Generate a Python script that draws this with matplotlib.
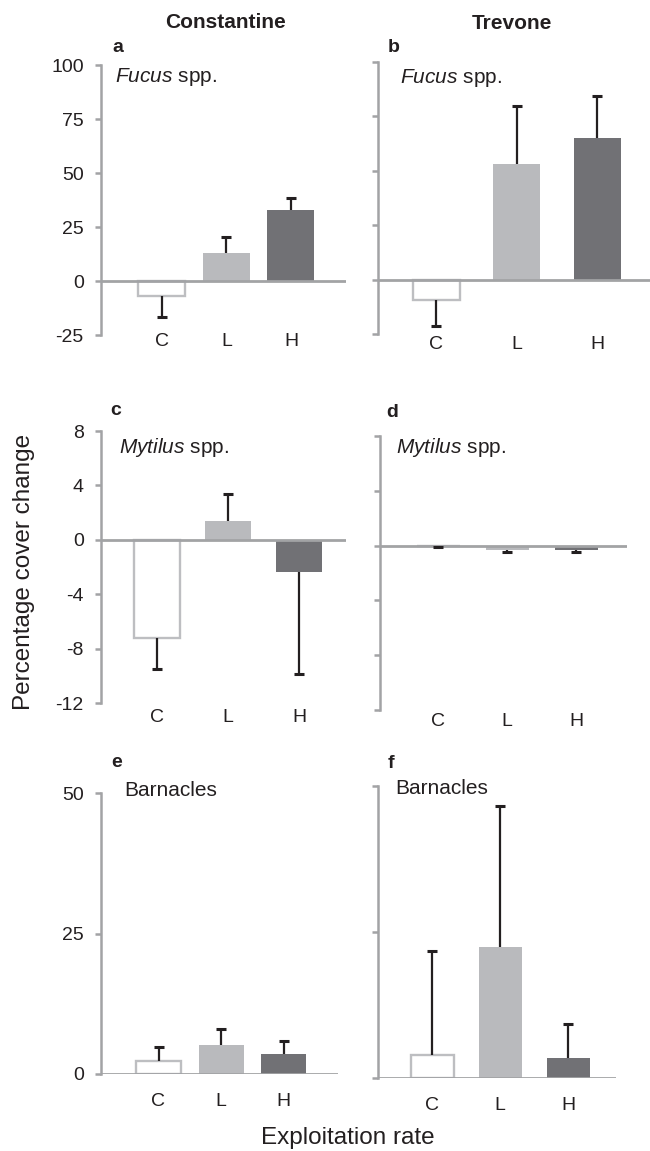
#!/usr/bin/python3

import numpy as np
import matplotlib
matplotlib.use('Agg')
import matplotlib.pyplot as plt


categories = ['C', 'L', 'H']
sites = ['Constantine', 'Trevone']
panel_letters = ['a', 'b', 'c', 'd', 'e', 'f']
species = [r'$\mathit{Fucus}$ spp.', r'$\mathit{Mytilus}$ spp.', 'Barnacles']

# mean percentage cover change and one-sided error
fucus_constantine = [-7.0, 13.0, 32.9]
fucus_constantine_err = [9.7, 7.4, 5.5]
fucus_trevone = [-9.5, 53.0, 65.0]
fucus_trevone_err = [11.8, 27.0, 19.2]

mytilus_constantine = [-7.2, 1.4, -2.4]
mytilus_constantine_err = [2.3, 2.0, 7.5]
mytilus_trevone = [-0.02, -0.3, -0.3]
mytilus_trevone_err = [0.05, 0.15, 0.15]

barnacles_constantine = [2.4, 5.2, 3.6]
barnacles_constantine_err = [2.4, 2.8, 2.3]
barnacles_trevone = [3.9, 22.5, 3.5]
barnacles_trevone_err = [17.8, 24.1, 5.8]

yticks_fucus = [-25, 0, 25, 50, 75, 100]
yticks_mytilus = [-12, -8, -4, 0, 4, 8]
yticks_barnacles = [0, 25, 50]

W, H = 650, 1151
GRAY = '#a2a3a5'
TEXT = '#231f20'
FACE = ['white', '#b9babd', '#717175']
EDGE = ['#bdbec1', '#b9babd', '#717175']


def fx(px):
	return px / W


def fy(py):
	return 1 - py / H


def draw_panel(fig, values, errors, yticks, geom, show_labels):
	''' one bar panel, geometry given in pixels'''

	spine_x, right_x, top_y, bottom_y, first_c, spacing, bar_px, pad = geom
	ax = fig.add_axes([fx(spine_x), fy(bottom_y), (right_x - spine_x) / W, (bottom_y - top_y) / H])

	x = np.arange(len(categories))
	vals = np.array(values)
	errs = np.array(errors)

	ax.bar(x, vals, width=bar_px / spacing, color=FACE, edgecolor=EDGE,
		linewidth=[1.7, 0, 0], zorder=2)

	lower = np.where(vals < 0, errs, 0)
	upper = np.where(vals >= 0, errs, 0)
	ends = vals + upper - lower
	ax.errorbar(x, vals, yerr=[lower, upper], fmt='none', ecolor=TEXT,
		elinewidth=1.6, capsize=0, zorder=4)
	ax.plot(x, ends, ls='none', marker='_', markersize=7, markeredgewidth=2.2,
		color=TEXT, zorder=4)

	ax.axhline(0, color=GRAY, lw=2.0, zorder=3)

	ax.set_xlim(-(first_c - spine_x) / spacing, (right_x - first_c) / spacing)
	ax.set_ylim(yticks[0], yticks[-1])
	ax.set_yticks(yticks)
	ax.set_xticks(x)
	ax.set_xticklabels(categories)

	for side in ['top', 'right', 'bottom']:
		ax.spines[side].set_visible(False)
	ax.spines['left'].set_color(GRAY)
	ax.spines['left'].set_linewidth(1.8)

	ax.tick_params(axis='y', direction='out', length=4.5, width=1.8, color=GRAY,
		labelsize=14, labelcolor=TEXT, pad=8, labelleft=show_labels)
	ax.tick_params(axis='x', length=0, labelsize=14, labelcolor=TEXT, pad=pad)
	ax.patch.set_alpha(0)
	return ax


def main():
	'''main function'''

	plt.rcParams['font.family'] = ['Liberation Sans', 'DejaVu Sans']
	plt.rcParams['mathtext.fontset'] = 'custom'
	plt.rcParams['mathtext.it'] = 'Liberation Sans:italic'
	plt.rcParams['mathtext.rm'] = 'Liberation Sans'
	plt.rcParams['axes.unicode_minus'] = False

	fig = plt.figure(figsize=(6.5, 11.51), dpi=100)

	data = [
		(fucus_constantine, fucus_constantine_err, yticks_fucus),
		(fucus_trevone, fucus_trevone_err, yticks_fucus),
		(mytilus_constantine, mytilus_constantine_err, yticks_mytilus),
		(mytilus_trevone, mytilus_trevone_err, yticks_mytilus),
		(barnacles_constantine, barnacles_constantine_err, yticks_barnacles),
		(barnacles_trevone, barnacles_trevone_err, yticks_barnacles),
	]

	# spine x, right end, top y, bottom y, first bar centre, spacing, bar width, label pad
	geoms = [
		(101, 346, 65, 335, 162, 64.5, 47, -1.2),
		(378, 650, 62, 334, 436, 80.5, 47, 1.7),
		(101, 346, 431, 703, 157, 71, 46, 4.5),
		(380, 627, 436, 710, 438, 69, 43, 2.4),
		(101, 338, 793, 1074, 158.5, 62.5, 45, 13.7),
		(378, 616, 786, 1078, 432, 68, 43, 13.4),
	]

	letter_pos = [(112, 52), (388, 52), (110, 415), (386, 417), (111, 767), (388, 768)]
	species_pos = [(115, 82), (400, 83), (119, 453), (396, 453), (124, 796), (395, 794)]

	for i, ((vals, errs, yt), geom) in enumerate(zip(data, geoms)):
		draw_panel(fig, vals, errs, yt, geom, show_labels=(i % 2 == 0))
		lx, ly = letter_pos[i]
		fig.text(fx(lx), fy(ly), panel_letters[i], fontsize=14, fontweight='bold',
			color=TEXT, ha='left', va='baseline')
		sx, sy = species_pos[i]
		fig.text(fx(sx), fy(sy), species[i // 2], fontsize=15, color=TEXT,
			ha='left', va='baseline')

	fig.text(fx(225), fy(28), sites[0], fontsize=15, fontweight='bold', color=TEXT,
		ha='center', va='baseline')
	fig.text(fx(512), fy(29), sites[1], fontsize=15, fontweight='bold', color=TEXT,
		ha='center', va='baseline')

	fig.text(fx(24), fy(572), 'Percentage cover change', rotation=90, fontsize=17.5,
		color=TEXT, ha='center', va='center')
	fig.text(fx(348), fy(1138), 'Exploitation rate', fontsize=17.5, color=TEXT,
		ha='center', va='center')

	fig.savefig('out.png', dpi=100)


if __name__ == '__main__':
	main()
